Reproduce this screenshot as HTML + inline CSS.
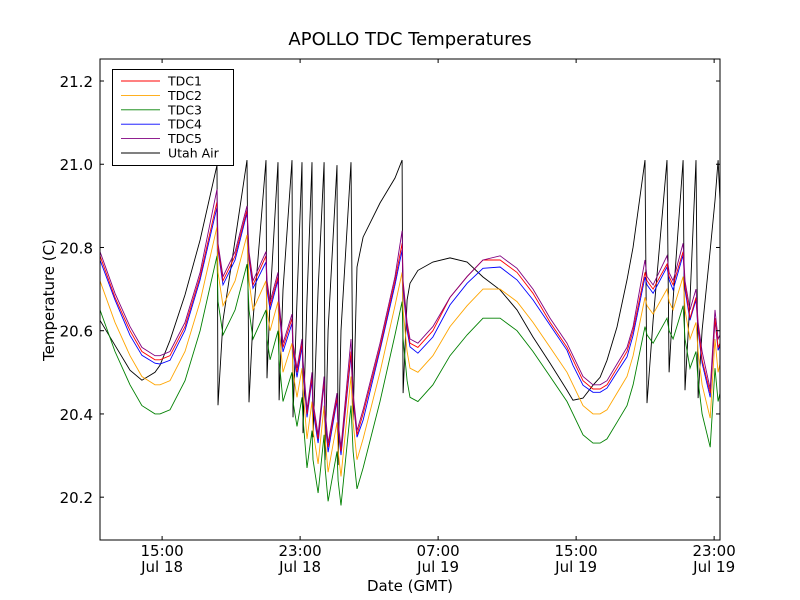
<!DOCTYPE html>
<html><head><meta charset="utf-8">
<style>
body{margin:0;background:#fff;}
svg{display:block;font-family:"DejaVu Sans","Liberation Sans",sans-serif;}
</style></head>
<body>
<svg id="chart" width="800" height="600" viewBox="0 0 800 600">
<rect x="0" y="0" width="800" height="600" fill="#fff"/>
<text x="410" y="45" text-anchor="middle" font-size="18">APOLLO TDC Temperatures</text>
<text x="410" y="591" text-anchor="middle" font-size="15">Date (GMT)</text>
<text x="0" y="0" transform="translate(54,300) rotate(-90)" text-anchor="middle" font-size="15">Temperature (C)</text>
<g id="series"></g>
<g id="axes"></g>
<rect x="100" y="59" width="620" height="481" fill="none" stroke="#000" stroke-width="1"/>
<g id="legend"></g>
</svg>
<script>
const times=[11.40,12.27,13.14,13.83,14.59,14.88,15.46,16.33,17.20,18.18,18.24,18.53,19.23,19.92,20.04,20.27,21.02,21.08,21.26,21.72,21.78,22.01,22.53,22.59,22.82,23.11,23.17,23.40,23.69,23.75,24.04,24.39,24.45,24.62,25.14,25.20,25.37,25.95,26.07,26.30,26.65,27.63,28.50,28.91,28.97,29.20,29.37,29.83,30.70,31.69,32.68,33.60,34.59,35.57,36.50,37.49,38.47,38.82,39.40,39.98,40.39,40.79,41.37,41.95,42.30,42.99,43.11,43.46,44.27,44.39,44.62,45.20,45.31,45.60,45.95,46.07,46.30,46.77,47.05,47.23,47.34];
const tdc1=[20.78,20.68,20.60,20.55,20.53,20.53,20.54,20.61,20.73,20.91,20.80,20.72,20.78,20.89,20.78,20.71,20.78,20.71,20.66,20.73,20.66,20.56,20.63,20.56,20.50,20.57,20.52,20.40,20.49,20.42,20.34,20.48,20.40,20.32,20.44,20.37,20.31,20.55,20.44,20.35,20.40,20.56,20.72,20.81,20.71,20.61,20.57,20.56,20.60,20.68,20.73,20.77,20.77,20.74,20.69,20.62,20.56,20.53,20.48,20.46,20.46,20.47,20.51,20.55,20.60,20.74,20.72,20.70,20.76,20.73,20.71,20.79,20.71,20.63,20.68,20.61,20.53,20.45,20.63,20.56,20.57];
const tdc2=[20.72,20.62,20.54,20.49,20.47,20.47,20.48,20.55,20.67,20.85,20.74,20.66,20.72,20.83,20.72,20.65,20.72,20.65,20.60,20.67,20.60,20.50,20.57,20.50,20.44,20.51,20.46,20.34,20.43,20.36,20.28,20.42,20.34,20.26,20.38,20.31,20.25,20.49,20.38,20.29,20.34,20.50,20.66,20.74,20.65,20.55,20.51,20.50,20.54,20.61,20.66,20.70,20.70,20.67,20.62,20.56,20.50,20.47,20.42,20.40,20.40,20.41,20.45,20.49,20.54,20.68,20.66,20.64,20.70,20.67,20.65,20.73,20.65,20.58,20.62,20.55,20.47,20.39,20.58,20.50,20.52];
const tdc3=[20.65,20.55,20.47,20.42,20.40,20.40,20.41,20.48,20.60,20.78,20.67,20.59,20.65,20.76,20.65,20.58,20.65,20.58,20.53,20.60,20.53,20.43,20.50,20.43,20.37,20.44,20.39,20.27,20.36,20.29,20.21,20.35,20.27,20.19,20.31,20.24,20.18,20.42,20.31,20.22,20.27,20.43,20.59,20.67,20.58,20.48,20.44,20.43,20.47,20.54,20.59,20.63,20.63,20.60,20.55,20.49,20.43,20.40,20.35,20.33,20.33,20.34,20.38,20.42,20.47,20.61,20.59,20.57,20.63,20.60,20.58,20.66,20.58,20.51,20.55,20.48,20.40,20.32,20.51,20.43,20.45];
const tdc4=[20.770,20.674,20.589,20.541,20.522,20.520,20.529,20.601,20.722,20.897,20.794,20.710,20.770,20.883,20.770,20.702,20.765,20.698,20.650,20.722,20.650,20.549,20.618,20.553,20.488,20.561,20.505,20.392,20.481,20.409,20.330,20.474,20.385,20.308,20.433,20.361,20.301,20.541,20.433,20.344,20.385,20.553,20.710,20.794,20.698,20.601,20.561,20.546,20.585,20.662,20.714,20.750,20.753,20.722,20.674,20.613,20.553,20.517,20.469,20.452,20.452,20.462,20.500,20.537,20.589,20.729,20.710,20.690,20.753,20.722,20.698,20.782,20.698,20.625,20.674,20.601,20.522,20.440,20.625,20.553,20.565];
const tdc5=[20.79,20.69,20.61,20.56,20.54,20.54,20.55,20.62,20.74,20.94,20.81,20.73,20.79,20.90,20.79,20.72,20.79,20.72,20.67,20.74,20.67,20.57,20.64,20.57,20.51,20.58,20.53,20.41,20.50,20.43,20.35,20.49,20.41,20.33,20.45,20.38,20.32,20.58,20.45,20.36,20.41,20.57,20.73,20.84,20.72,20.62,20.58,20.57,20.61,20.68,20.73,20.77,20.78,20.75,20.70,20.63,20.57,20.54,20.49,20.47,20.47,20.48,20.52,20.56,20.61,20.77,20.73,20.71,20.78,20.74,20.72,20.81,20.72,20.65,20.70,20.62,20.55,20.46,20.65,20.58,20.59];
const utahAir=[20.625,20.565,20.505,20.481,20.500,20.517,20.577,20.686,20.818,20.998,20.421,20.625,20.818,21.010,20.428,20.625,21.010,20.486,20.674,21.005,20.433,20.698,21.010,20.392,20.674,21.005,20.354,20.674,21.005,20.344,20.698,21.005,20.289,20.601,20.998,20.277,20.601,21.005,20.385,20.753,20.825,20.907,20.967,21.010,20.450,20.674,20.714,20.745,20.765,20.775,20.765,20.729,20.698,20.650,20.585,20.522,20.457,20.433,20.438,20.469,20.488,20.529,20.609,20.722,20.801,21.010,20.426,20.625,21.010,20.500,20.674,21.010,20.457,20.674,21.010,20.438,20.601,20.794,20.913,21.010,20.913];
const yTicks=[20.2,20.4,20.6,20.8,21.0,21.2];
const xTicks=[15,23,31,39,47];
const xTickTimes=["15:00","23:00","07:00","15:00","23:00"];
const xTickDates=["Jul 18","Jul 18","Jul 19","Jul 19","Jul 19"];
const seriesNames=["TDC1","TDC2","TDC3","TDC4","TDC5","Utah Air"];

const NS="http://www.w3.org/2000/svg";
const X0=100,X1=720,Y0=59,Y1=540;
const T0=11.4,T1=47.34,V0=20.0971,V1=21.2529;
function xs(t){return X0+(t-T0)/(T1-T0)*(X1-X0);}
function ys(v){return Y1-(v-V0)/(V1-V0)*(Y1-Y0);}
function mk(tag,attrs,parent){const e=document.createElementNS(NS,tag);for(const k in attrs)e.setAttribute(k,attrs[k]);parent.appendChild(e);return e;}

const seriesData=[tdc1,tdc2,tdc3,tdc4,tdc5,utahAir];
const colors=["#ff0000","#ffa500","#008000","#0000ff","#800080","#000000"];
const sg=document.getElementById('series');
const order=[5,2,1,3,0,4];
order.forEach(i=>{
  const d=seriesData[i].map((v,j)=>(j?'L':'M')+xs(times[j]).toFixed(1)+','+ys(v).toFixed(1)).join('');
  const p=mk('path',{d:d,fill:'none',stroke:colors[i],'stroke-width':0.9,'stroke-linejoin':'miter'},sg);
  
  
});

const ag=document.getElementById('axes');
yTicks.forEach(v=>{
  const y=ys(v);
  const t1=mk('line',{x1:X0,x2:X0+4,y1:y,y2:y,stroke:'#000'},ag);
  
  
  const t2=mk('line',{x1:X1-4,x2:X1,y1:y,y2:y,stroke:'#000'},ag);
  
  
  const tx=mk('text',{x:X0-7,y:y+6,'text-anchor':'end','font-size':15},ag);
  tx.textContent=v.toFixed(1);
  
  
});
xTicks.forEach((t,i)=>{
  const x=xs(t);
  const a=mk('line',{x1:x,x2:x,y1:Y1,y2:Y1-4,stroke:'#000'},ag);
  
  
  const b=mk('line',{x1:x,x2:x,y1:Y0,y2:Y0+4,stroke:'#000'},ag);
  
  
  const l1=mk('text',{x:x,y:556,'text-anchor':'middle','font-size':15},ag);
  l1.textContent=xTickTimes[i];
  
  
  const l2=mk('text',{x:x,y:572,'text-anchor':'middle','font-size':15},ag);
  l2.textContent=xTickDates[i];
  
  
});

const lg=document.getElementById('legend');
const box=mk('rect',{x:112.5,y:69.5,width:121,height:96,fill:'#fff',stroke:'#000'},lg);


seriesNames.forEach((n,i)=>{
  const y=81+i*14.4;
  const g=mk('g',{},lg);
  
  
  mk('line',{x1:121,x2:160,y1:y,y2:y,stroke:colors[i],'stroke-width':0.9},g);
  const t=mk('text',{x:168,y:y+4.5,'font-size':12.5},g);
  t.textContent=n;
});
</script>
</body></html>
